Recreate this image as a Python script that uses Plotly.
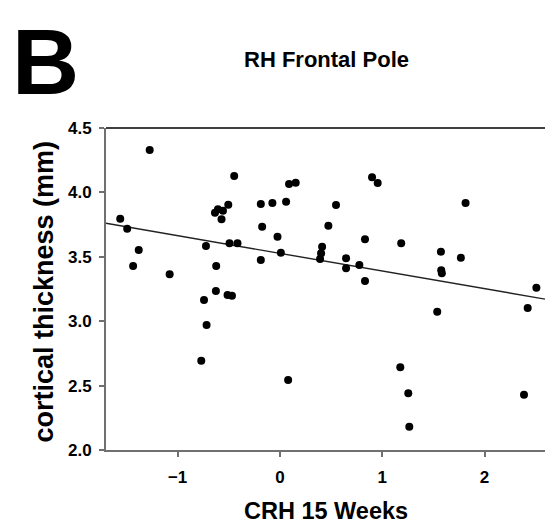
import plotly.graph_objects as go

crh_15_weeks = [-1.273, -0.447, 0.089, 0.154, -1.561, -1.493, -1.380, -1.435, -1.078, -0.723,
                -0.623, -0.635, -0.606, -0.557, -0.505, -0.571, -0.493, -0.415, -0.187, -0.074,
                0.060, -0.174, -0.024, 0.009, -0.187, -0.626, -0.742, -0.512, -0.469, -0.717,
                -0.769, 0.080, 0.900, 0.955, 0.548, 1.814, 0.473, 0.831, 1.185, 0.412,
                0.402, 0.392, 0.646, 0.646, 0.776, 0.831, 1.573, 1.768, 1.576, 1.582,
                2.506, 1.537, 2.421, 1.176, 1.254, 2.385, 1.264]
cortical_thickness = [4.329, 4.127, 4.065, 4.075, 3.796, 3.718, 3.553, 3.429, 3.364, 3.584,
                      3.429, 3.842, 3.869, 3.858, 3.905, 3.791, 3.605, 3.605, 3.910, 3.918,
                      3.928, 3.734, 3.656, 3.532, 3.475, 3.234, 3.165, 3.203, 3.198, 2.970,
                      2.693, 2.543, 4.117, 4.073, 3.902, 3.918, 3.741, 3.636, 3.605, 3.578,
                      3.527, 3.483, 3.488, 3.411, 3.436, 3.312, 3.540, 3.493, 3.395, 3.372,
                      3.260, 3.074, 3.102, 2.642, 2.440, 2.429, 2.181]

trend_x = [-1.7, 2.6]
trend_y = [3.760, 3.170]

x_ticks = [-1, 0, 1, 2]
y_ticks = [2.0, 2.5, 3.0, 3.5, 4.0, 4.5]

FONT = "Liberation Sans, Arial, sans-serif"
AXIS_GRAY = "#707070"

fig = go.Figure()
fig.add_trace(go.Scatter(x=trend_x, y=trend_y, mode="lines",
                         line=dict(color="#222222", width=1.4), showlegend=False,
                         hoverinfo="skip"))
fig.add_trace(go.Scatter(x=crh_15_weeks, y=cortical_thickness, mode="markers",
                         marker=dict(color="black", size=8), showlegend=False))

# the page body adds an 8px offset, so the figure is 8px smaller than the window
fig.update_layout(
    width=545, height=519,
    margin=dict(l=97.5, r=6.7, t=120, b=77),
    paper_bgcolor="white", plot_bgcolor="white",
    font=dict(family=FONT, color="black"),
    xaxis=dict(range=[-1.7, 2.6], tickvals=x_ticks, ticks="outside", ticklen=5,
               tickcolor=AXIS_GRAY, tickwidth=1.5, showline=True, linecolor=AXIS_GRAY,
               linewidth=2, showgrid=False, zeroline=False, ticklabelstandoff=6,
               tickfont=dict(family=FONT, size=17, color="black", weight="bold")),
    yaxis=dict(range=[2.0, 4.5], tickvals=y_ticks, tickformat=".1f", ticks="outside",
               ticklen=5, tickcolor=AXIS_GRAY, tickwidth=1.5, showline=True,
               linecolor=AXIS_GRAY, linewidth=2, showgrid=False, zeroline=False,
               ticklabelstandoff=4,
               tickfont=dict(family=FONT, size=17, color="black", weight="bold")),
    shapes=[
        dict(type="line", xref="paper", yref="paper", x0=0, x1=1, y0=1, y1=1,
             line=dict(color="black", width=1.5)),
        dict(type="line", xref="paper", yref="paper", x0=1, x1=1, y0=0, y1=1,
             line=dict(color="#505050", width=1.5)),
    ],
    annotations=[
        dict(text="<b>B</b>", xref="paper", yref="paper", x=-0.2173, y=1.3727,
             xanchor="left", yanchor="top", showarrow=False,
             font=dict(family=FONT, size=93, color="black")),
        dict(text="<b>RH Frontal Pole</b>", xref="paper", yref="paper", x=0.5, y=1.2112,
             xanchor="center", yanchor="middle", showarrow=False,
             font=dict(family=FONT, size=22, color="black")),
        dict(text="<b>CRH 15 Weeks</b>", xref="paper", yref="paper", x=0.5, y=-0.236,
             xanchor="center", yanchor="bottom", showarrow=False,
             font=dict(family=FONT, size=23.5, color="black")),
        dict(text="<b>cortical thickness (mm)</b>", xref="paper", yref="paper",
             x=-0.1418, y=0.4907, xanchor="center", yanchor="middle", textangle=-90,
             showarrow=False, font=dict(family=FONT, size=27, color="black")),
    ],
)

fig.write_html("out.html")
